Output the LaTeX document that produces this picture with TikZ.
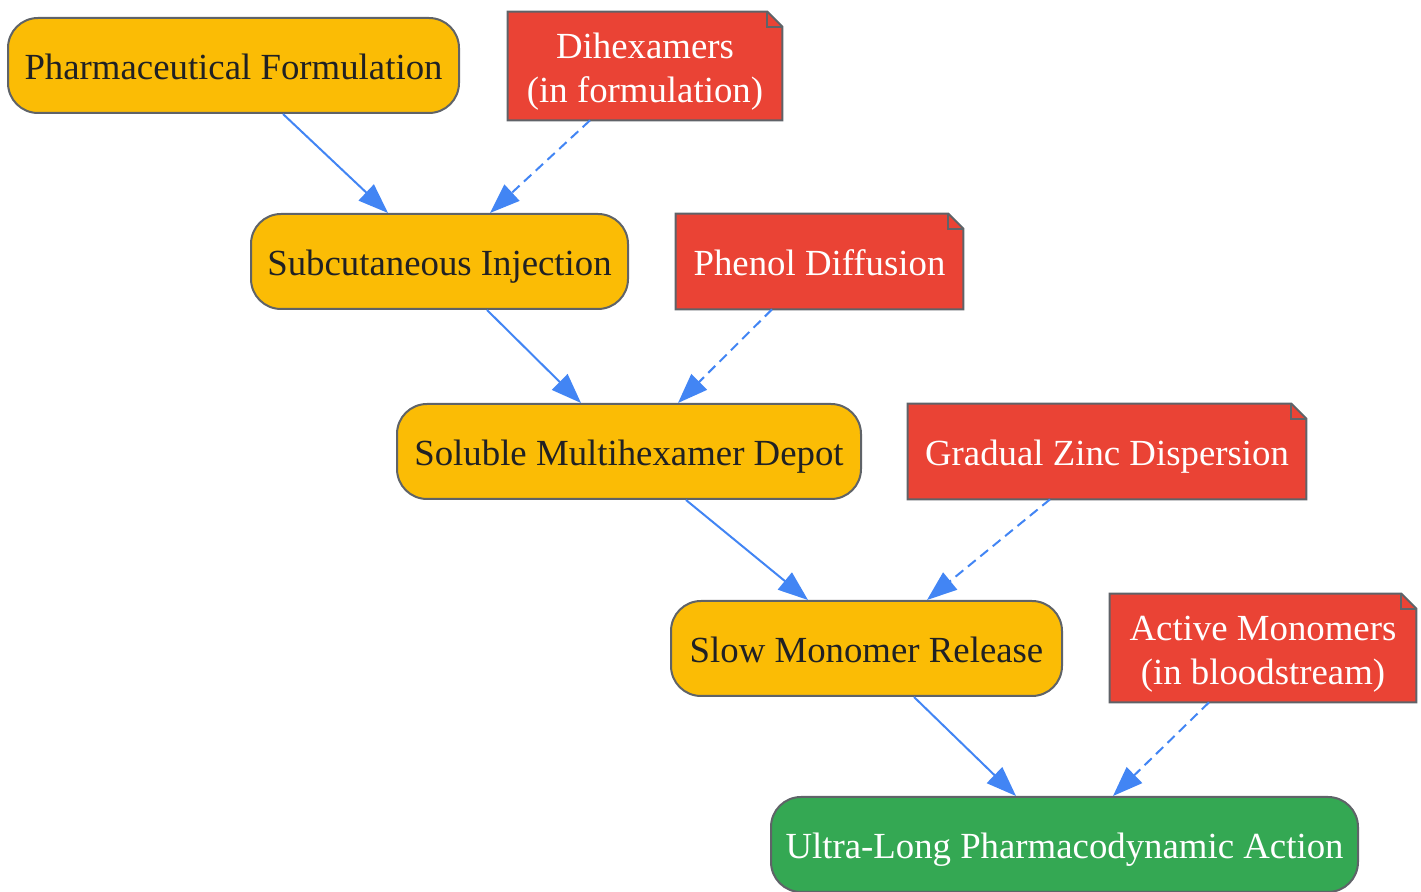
\documentclass[tikz,border=0pt]{standalone}
\usepackage{fontspec}
\setmainfont{Liberation Serif}
\usetikzlibrary{calc}
\usetikzlibrary{arrows.meta}

\definecolor{stageYellow}{HTML}{FBBC05}
\definecolor{noteRed}{HTML}{EA4335}
\definecolor{resultGreen}{HTML}{34A853}
\definecolor{arrowBlue}{HTML}{4285F4}
\definecolor{edgeGray}{HTML}{5F6368}
\definecolor{inkDark}{HTML}{202124}

\pgfdeclarelayer{background}
\pgfsetlayers{background,main}

\begin{document}
\begin{tikzpicture}[x=0.5pt,y=-0.5pt]
		\tikzstyle{stage} = [rectangle, rounded corners=15pt, minimum height=47.5pt, align=center, draw=edgeGray, line width=1pt, fill=stageYellow, text=inkDark, font=\fontsize{18.4}{22}\selectfont, text height=18.4pt, text depth=4.4pt]
		\tikzstyle{notebox} = [rectangle, minimum height=47.5pt, align=center, text=white, font=\fontsize{18.4}{22}\selectfont, text height=18.4pt, text depth=4.4pt]
		\tikzstyle{twolines} = [minimum height=54pt, text height=40.5pt, text depth=4pt]
		\tikzstyle{flow} = [-{Triangle[length=15pt,width=11pt]}, line width=1pt, draw=arrowBlue]
		\tikzstyle{hint} = [flow, dash pattern=on 5pt off 3pt]

		\useasboundingbox (0,0) rectangle (1421,892);

		\node (pharmaFormulation) [stage, minimum width=225.5pt] at (233.5,65.5) {Pharmaceutical Formulation};
		\node (subcutInjection) [stage, minimum width=188.5pt] at (439.5,261.5) {Subcutaneous Injection};
		\node (multihexDepot) [stage, minimum width=232pt] at (629,451.5) {Soluble Multihexamer Depot};
		\node (monomerRelease) [stage, minimum width=195.5pt] at (866.5,648.5) {Slow Monomer Release};
		\node (longAction) [stage, fill=resultGreen, text=white, minimum width=293.5pt] at (1064.5,844.5) {Ultra-Long Pharmacodynamic Action};

		\node (dihexamers) [notebox, twolines, minimum width=137pt] at (645,66) {Dihexamers\\(in formulation)};
		\node (phenolDiffusion) [notebox, minimum width=143.5pt] at (819.5,261.5) {Phenol Diffusion};
		\node (zincDispersion) [notebox, minimum width=199pt] at (1107,451.5) {Gradual Zinc Dispersion};
		\node (activeMonomers) [notebox, twolines, minimum width=153pt] at (1263,648) {Active Monomers\\(in bloodstream)};

		% folded note shapes behind the texts
		\begin{pgfonlayer}{background}
			\foreach \n in {dihexamers, phenolDiffusion, zincDispersion, activeMonomers} {
				\filldraw [fill=noteRed, draw=edgeGray, line width=1pt] (\n.south west) -- (\n.south east) -- ($(\n.north east)+(0,15)$) -- ($(\n.north east)+(-15,0)$) -- (\n.north west) -- cycle;
				\draw [draw=edgeGray, line width=1pt] ($(\n.north east)+(-15,0)$) -- ($(\n.north east)+(-15,15)$) -- ($(\n.north east)+(0,15)$);
			}
		\end{pgfonlayer}

		\draw [flow] ($(pharmaFormulation.south)+(49.5,0)$) -- ($(subcutInjection.north)+(-51.5,0)$);
		\draw [hint] ($(dihexamers.south)+(-55,0)$) -- ($(subcutInjection.north)+(50.5,0)$);
		\draw [flow] ($(subcutInjection.south)+(47.5,0)$) -- ($(multihexDepot.north)+(-48,0)$);
		\draw [hint] ($(phenolDiffusion.south)+(-47.5,0)$) -- ($(multihexDepot.north)+(49,0)$);
		\draw [flow] ($(multihexDepot.south)+(57,0)$) -- ($(monomerRelease.north)+(-58.5,0)$);
		\draw [hint] ($(zincDispersion.south)+(-57,0)$) -- ($(monomerRelease.north)+(60.5,0)$);
		\draw [flow] ($(monomerRelease.south)+(47.5,0)$) -- ($(longAction.north)+(-48.5,0)$);
		\draw [hint] ($(activeMonomers.south)+(-54,0)$) -- ($(longAction.north)+(48.5,0)$);
	\end{tikzpicture}
\end{document}
